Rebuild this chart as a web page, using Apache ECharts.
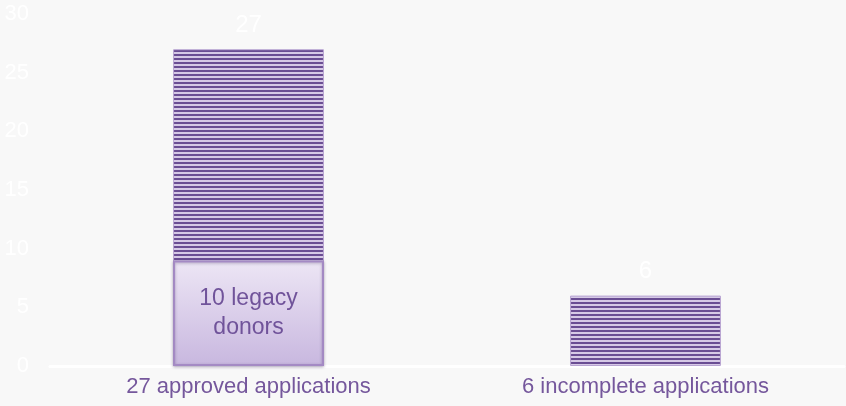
<!DOCTYPE html>
<html>
<head>
    <meta charset="utf-8">
    <style>
        html, body { margin: 0; padding: 0; background: #f8f8f8; }
        #chart { width: 846px; height: 406px; }
    </style>
    <script src="https://cdn.jsdelivr.net/npm/echarts@6/dist/echarts.min.js"></script>
</head>
<body>
    <div id="chart"></div>
    <script type="text/javascript">
        var categories = ['27 approved applications', '6 incomplete applications'];
        var applications = [27, 6];
        var legacyDonors = [9, null];
        var legacyLabel = '10 legacy\ndonors';

        // striped fill for the main bars
        var stripe = document.createElement('canvas');
        stripe.width = 4;
        stripe.height = 4;
        var ctx = stripe.getContext('2d');
        ctx.fillStyle = '#d6c9e6';
        ctx.fillRect(0, 0, 4, 4);
        ctx.fillStyle = '#6a4d93';
        ctx.fillRect(0, 2, 4, 2);

        var myChart = echarts.init(document.getElementById('chart'));
        myChart.setOption({
            backgroundColor: '#f8f8f8',
            animation: false,
            grid: { left: 50, right: 2, top: 14, bottom: 40 },
            xAxis: {
                type: 'category',
                data: categories,
                axisLine: { lineStyle: { color: '#ffffff', width: 3 } },
                axisTick: { show: false },
                axisLabel: {
                    color: '#75579c',
                    fontFamily: 'Liberation Sans',
                    fontSize: 22,
                    margin: 10
                }
            },
            yAxis: {
                type: 'value',
                min: 0,
                max: 30,
                interval: 5,
                splitLine: { show: false },
                axisLine: { show: false },
                axisTick: { show: false },
                axisLabel: {
                    color: '#ffffff',
                    fontFamily: 'Liberation Sans',
                    fontSize: 22,
                    margin: 21
                }
            },
            series: [
                {
                    type: 'bar',
                    data: applications,
                    barWidth: '38%',
                    itemStyle: {
                        color: { image: stripe, repeat: 'repeat' },
                        borderColor: '#b8a4d2',
                        borderWidth: 1
                    },
                    label: {
                        show: true,
                        position: 'top',
                        color: '#ffffff',
                        fontFamily: 'Liberation Sans',
                        fontSize: 24,
                        distance: 12
                    }
                },
                {
                    type: 'bar',
                    data: legacyDonors,
                    barWidth: '38%',
                    barGap: '-100%',
                    itemStyle: {
                        color: new echarts.graphic.LinearGradient(0, 0, 0, 1, [
                            { offset: 0, color: '#ede6f5' },
                            { offset: 1, color: '#c8b7df' }
                        ]),
                        borderColor: '#a48ac4',
                        borderWidth: 2,
                        shadowColor: 'rgba(60,40,90,0.35)',
                        shadowBlur: 3,
                        shadowOffsetY: 1
                    },
                    label: {
                        show: true,
                        position: 'inside',
                        formatter: legacyLabel,
                        color: '#70539a',
                        fontFamily: 'Liberation Sans',
                        fontSize: 23,
                        lineHeight: 29
                    }
                }
            ]
        });
    </script>
</body>
</html>
